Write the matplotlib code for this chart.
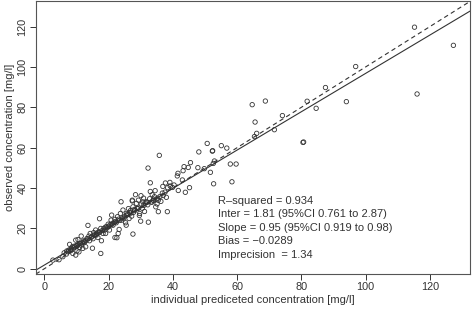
import matplotlib
matplotlib.use("Agg")
import matplotlib.pyplot as plt
import numpy as np

plt.rcParams['font.family'] = ['Liberation Sans', 'DejaVu Sans']

# observations: individual predicted (x) vs observed (y), mg/l
pred = [115.2, 127.3, 116.0, 96.9, 87.5, 94.0, 81.8, 84.6, 74.1, 71.6, 68.8, 64.7, 65.6, 66.1, 65.4,
        80.5, 80.7, 56.8, 55.1, 50.7, 52.3, 52.4, 48.1, 57.9, 59.7, 58.4, 52.7, 51.7, 52.6, 52.95,
        49.8, 47.8, 45.5, 44.8, 43.5, 43.2, 41.6, 41.4, 42.98, 45.2, 43.9, 41.7, 40.4, 39.1,
        35.8, 32.3, 33.0, 32.4, 27.6, 17.6, 38.3, 35.5, 23.9, 13.6, 17.2, 22.0, 22.6, 15.0, 2.7, 4.6,
        30.1, 28.4, 30.9, 30.7, 27.4, 30.0, 29.6, 31.2, 34.5, 33.0, 33.6, 36.9, 37.7, 38.4, 39.2,
        39.9, 37.6, 36.75, 38.0, 36.3, 35.1, 34.7,
        5.8, 6.9, 7.4, 8.1, 7.9, 8.7, 8.9, 9.8, 10.2, 9.4, 9.8, 10.5, 11.0, 11.5, 10.8, 12.0, 11.5,
        12.6, 12.9, 13.3, 13.9, 14.3, 14.1, 15.2, 15.4, 16.0, 16.2, 16.7, 17.2, 17.6, 18.3, 17.8,
        18.8, 19.3, 19.1, 19.9, 20.3, 20.8, 20.97, 21.4, 22.0, 22.4, 22.8, 23.3, 23.7, 24.1, 24.5,
        25.0, 25.3, 25.7, 26.2, 26.4, 26.8, 27.2, 27.4, 27.6, 28.0, 28.7, 28.9, 29.3, 29.7, 30.2,
        31.8, 32.2, 32.8, 33.3, 33.9, 34.3, 35.3, 35.5, 23.0, 25.5,
        6.2, 7.0, 8.3, 9.1, 10.0, 10.6, 11.2, 12.2, 13.0, 14.6, 15.8, 16.5, 18.0, 19.6, 21.0,
        21.8, 23.5, 24.8, 26.0, 27.0, 28.2, 29.0, 31.0, 32.0, 34.0, 36.0, 37.0,
        7.6, 8.5, 9.5, 10.3, 11.0, 11.8, 12.5, 13.5, 14.8, 15.5, 16.3, 17.0, 18.5, 19.0, 20.0,
        20.5, 21.2, 22.2, 23.2, 24.3, 25.6, 26.6, 27.8, 29.4, 30.5, 31.5, 33.5, 34.8]
obs = [119.7, 110.7, 86.6, 100.2, 89.8, 82.8, 83.0, 79.5, 75.9, 68.9, 83.1, 81.3, 72.7, 67.1, 65.5,
       62.6, 62.8, 59.8, 61.0, 62.1, 58.3, 58.5, 57.9, 51.9, 51.9, 43.1, 42.1, 47.8, 52.2, 53.4,
       49.6, 50.1, 52.6, 50.2, 50.6, 48.6, 47.3, 46.0, 44.0, 40.2, 37.9, 38.8, 41.5, 42.8,
       56.2, 49.9, 42.6, 23.1, 17.2, 7.6, 28.3, 28.3, 33.2, 21.5, 24.8, 15.5, 15.4, 10.2, 4.3, 4.5,
       36.2, 36.7, 35.0, 33.1, 33.6, 23.6, 26.4, 28.4, 38.7, 38.3, 36.7, 40.8, 42.5, 40.2, 41.0,
       40.3, 38.0, 37.5, 35.4, 33.4, 32.1, 30.7,
       6.0, 7.3, 8.4, 9.6, 12.1, 10.9, 7.6, 6.8, 8.9, 11.2, 14.2, 14.5, 10.6, 11.7, 8.4, 10.1, 16.2,
       13.2, 10.9, 15.0, 16.2, 17.5, 13.9, 14.9, 17.9, 19.2, 16.7, 15.5, 18.0, 20.0, 17.5, 13.9,
       19.2, 20.8, 17.5, 22.1, 19.2, 24.1, 26.6, 21.6, 24.5, 22.8, 25.8, 19.5, 27.4, 24.1, 29.1,
       26.1, 22.8, 27.4, 29.8, 24.9, 28.8, 26.1, 34.0, 30.7, 29.4, 32.4, 29.9, 34.0, 27.4, 32.1,
       33.2, 31.7, 34.7, 33.1, 34.0, 35.7, 35.0, 34.0, 17.5, 21.6,
       7.9, 8.8, 9.0, 10.3, 11.5, 12.0, 12.6, 13.8, 14.0, 15.6, 16.9, 17.8, 18.9, 20.3, 21.9,
       23.0, 24.0, 25.2, 26.9, 27.6, 28.9, 29.9, 31.4, 32.9, 33.9, 35.8, 36.3,
       9.2, 9.9, 10.8, 11.6, 12.4, 12.9, 13.6, 14.8, 15.9, 16.6, 17.2, 18.3, 19.9, 20.6, 21.0,
       21.8, 22.5, 23.4, 24.6, 25.1, 26.5, 27.9, 28.0, 30.1, 30.0, 32.6, 33.0, 34.5]

intercept = 1.81
slope = 0.95
annot = ["R\u2013squared = 0.934",
         "Inter = 1.81 (95%CI 0.761 to 2.87)",
         "Slope = 0.95 (95%CI 0.919 to 0.98)",
         "Bias = \u22120.0289",
         "Imprecision  = 1.34"]
xticks = [0, 20, 40, 60, 80, 100, 120]
yticks = [0, 20, 40, 60, 80, 100, 120]

fig = plt.figure(figsize=(4.72, 3.10), dpi=100)
ax = fig.add_axes([0.076, 0.116, 0.920, 0.881])
col = '#333333'
ax.scatter(pred, obs, s=10, facecolors='none', edgecolors=col, linewidths=0.6, zorder=3)

xl = (-2.6, 132.5)
yl = (-2.6, 132.7)
xs = np.array(xl)
ax.plot(xs, intercept + slope * xs, color=col, lw=0.8)
ax.plot(xs, xs, color=col, lw=0.8, dashes=(4, 3))
ax.set_xlim(xl)
ax.set_ylim(yl)

ax.set_xticks(xticks)
ax.set_yticks(yticks)
ax.set_yticklabels([str(v) for v in yticks], rotation=90, va='center')
ax.tick_params(axis='both', direction='out', length=4, width=0.7, colors=col,
               labelsize=7.8, pad=2)
for s in ax.spines.values():
    s.set_color('#555555')
    s.set_linewidth(0.8)

ax.set_xlabel("individual prediceted concentration [mg/l]", fontsize=8, color=col, labelpad=2)
ax.set_ylabel("observed concentration [mg/l]", fontsize=8, color=col, labelpad=2)

ys = [33.6, 26.9, 20.0, 13.6, 6.6]
for t, yv in zip(annot, ys):
    ax.text(54.1, yv, t, fontsize=8, color=col, va='center', ha='left')

fig.savefig("out.png", dpi=100)
